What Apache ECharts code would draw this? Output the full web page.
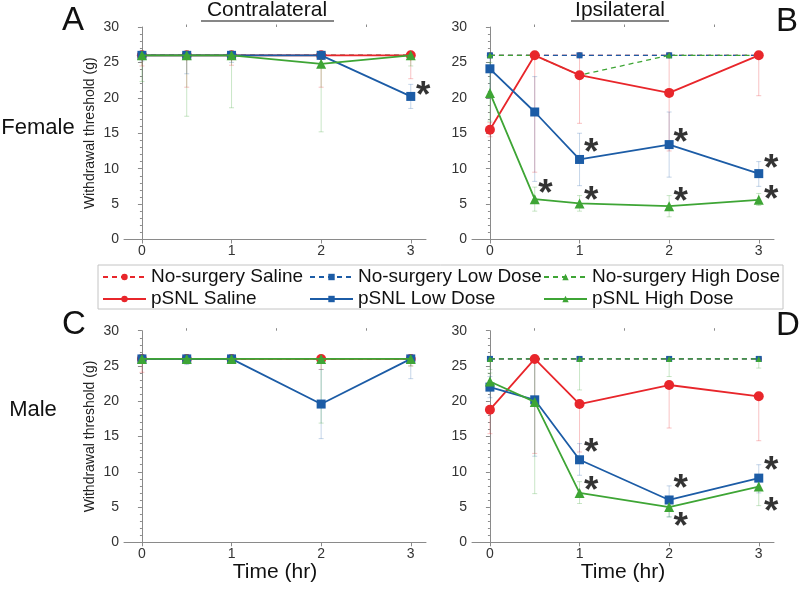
<!DOCTYPE html>
<html><head><meta charset="utf-8">
<script src="https://cdn.jsdelivr.net/npm/echarts@6/dist/echarts.min.js"></script>
<style>html,body{margin:0;padding:0;background:#fff}#c{width:800px;height:589px}</style>
</head><body><div id="c"></div>
<script>
// ---------------- DATA ----------------
const times = [0, 0.5, 1, 2, 3];
const xTickValues = [0, 1, 2, 3];
const xMinorTickValues = [0.5, 1.5, 2.5];
const seriesNames = ['No-surgery Saline', 'No-surgery Low Dose', 'No-surgery High Dose', 'pSNL Saline', 'pSNL Low Dose', 'pSNL High Dose'];

// A: Female, contralateral
const femContraNsSaline = [26, 26, 26, 26, 26];
const femContraNsLow    = [26, 26, 26, 26, 26];
const femContraNsHigh   = [26, 26, 26, 26, 26];
const femContraSaline   = [26, 26, 26, 26, 26];
const femContraLow      = [26, 26, 26, 26, 20.2];
const femContraHigh     = [26, 26, 26, 24.8, 26];
const femContraSalineLo = [24.5, 21.5, 24.6, 21.5, 22.7];
const femContraSalineHi = [26, 26, 26, 26, 26];
const femContraLowLo    = [25.2, 23.4, 25, 25.5, 18.5];
const femContraLowHi    = [26, 26, 26, 26, 21.9];
const femContraHighLo   = [22.3, 17.4, 18.6, 15.2, 24.5];
const femContraHighHi   = [26, 26, 26, 26, 26];
const femContraStars    = [[3.14, 21.3]];

// B: Female, ipsilateral
const femIpsiNsSaline = [26, 26, 26, 26, 26];
const femIpsiNsLow    = [26, 26, 26, 26, 26];
const femIpsiNsHigh   = [26, 26, 23.2, 26, 26];
const femIpsiSaline   = [15.5, 26, 23.2, 20.7, 26];
const femIpsiLow      = [24.1, 18.0, 11.3, 13.4, 9.3];
const femIpsiHigh     = [20.7, 5.7, 5.1, 4.7, 5.6];
const femIpsiSalineLo = [14.5, 9.5, 16.4, 12.5, 20.3];
const femIpsiSalineHi = [16.5, 26, 26, 26, 26];
const femIpsiLowLo    = [20.0, 8.2, 7.6, 8.8, 7.5];
const femIpsiLowHi    = [26, 23, 15, 18, 11];
const femIpsiHighLo   = [16.7, 4.0, 4.0, 3.2, 4.8];
const femIpsiHighHi   = [25, 7.4, 6.2, 6.2, 6.5];
const femIpsiStars    = [[0.62, 7.4], [1.13, 13.2], [1.13, 6.5], [2.13, 14.7], [2.13, 6.25], [3.14, 11.0], [3.14, 6.6]];

// C: Male, contralateral
const maleContraNsSaline = [26, 26, 26, 26, 26];
const maleContraNsLow    = [26, 26, 26, 26, 26];
const maleContraNsHigh   = [26, 26, 26, 26, 26];
const maleContraSaline   = [26, 26, 26, 26, 26];
const maleContraLow      = [26, 26, 26, 19.6, 26];
const maleContraHigh     = [26, 26, 26, 26, 26];
const maleContraSalineLo = [24.1, 25.5, 25.5, 24.5, 25];
const maleContraSalineHi = [26, 26, 26, 26, 26];
const maleContraLowLo    = [25.5, 25.2, 25.5, 14.7, 23.2];
const maleContraLowHi    = [26, 26, 26, 24.5, 26];
const maleContraHighLo   = [25.5, 25.5, 25.5, 16.9, 25];
const maleContraHighHi   = [26, 26, 26, 26, 26];
const maleContraStars    = [];

// D: Male, ipsilateral
const maleIpsiNsSaline = [26, 26, 26, 26, 26];
const maleIpsiNsLow    = [26, 26, 26, 26, 26];
const maleIpsiNsHigh   = [26, 26, 26, 26, 26];
const maleIpsiSaline   = [18.8, 26, 19.6, 22.3, 20.7];
const maleIpsiLow      = [22.0, 20.2, 11.7, 6.0, 9.1];
const maleIpsiHigh     = [22.8, 19.9, 7.0, 5.0, 7.9];
const maleIpsiSalineLo = [15.4, 12.6, 12.8, 16.2, 14.4];
const maleIpsiSalineHi = [18.8, 26, 19.6, 22.3, 20.7];
const maleIpsiLowLo    = [20.5, 12.2, 9.5, 3.6, 7.0];
const maleIpsiLowHi    = [23.5, 26, 14, 8, 11];
const maleIpsiHighLo   = [21.5, 6.9, 5.5, 3.6, 5.2];
const maleIpsiHighHi   = [24, 26, 8.6, 6.5, 9];
const maleIpsiNsHighLo = [24.5, 26, 21.6, 23.5, 24.7];
const maleIpsiStars    = [[1.13, 13.65], [1.13, 8.36], [2.13, 8.55], [2.13, 3.16], [3.14, 11.2], [3.14, 5.3]];

// ---------------- STYLE ----------------
const FONT = '"Liberation Sans", Arial, sans-serif';
const RED = '#e8262b', BLUE = '#1c5ca6', GREEN = '#3ea535';
const colors = [RED, BLUE, GREEN, RED, BLUE, GREEN];
const symbols = ['circle', 'rect', 'triangle', 'circle', 'rect', 'triangle'];
const paleColors = ['rgba(232,38,43,0.28)', 'rgba(28,92,166,0.25)', 'rgba(62,165,53,0.28)'];

const panels = [
  {grid: {left: 124, top: 27, width: 302, height: 212.5}, yName: true, xName: false,
   lines: [femContraNsSaline, femContraNsLow, femContraNsHigh, femContraSaline, femContraLow, femContraHigh],
   errs: [[femContraSalineLo, femContraSalineHi], [femContraLowLo, femContraLowHi], [femContraHighLo, femContraHighHi]],
   nsErr: null, stars: femContraStars},
  {grid: {left: 472, top: 27, width: 302, height: 212.5}, yName: false, xName: false,
   lines: [femIpsiNsSaline, femIpsiNsLow, femIpsiNsHigh, femIpsiSaline, femIpsiLow, femIpsiHigh],
   errs: [[femIpsiSalineLo, femIpsiSalineHi], [femIpsiLowLo, femIpsiLowHi], [femIpsiHighLo, femIpsiHighHi]],
   nsErr: null, stars: femIpsiStars},
  {grid: {left: 124, top: 330.7, width: 302, height: 211.6}, yName: true, xName: true,
   lines: [maleContraNsSaline, maleContraNsLow, maleContraNsHigh, maleContraSaline, maleContraLow, maleContraHigh],
   errs: [[maleContraSalineLo, maleContraSalineHi], [maleContraLowLo, maleContraLowHi], [maleContraHighLo, maleContraHighHi]],
   nsErr: null, stars: maleContraStars},
  {grid: {left: 472, top: 330.7, width: 302, height: 211.6}, yName: false, xName: true,
   lines: [maleIpsiNsSaline, maleIpsiNsLow, maleIpsiNsHigh, maleIpsiSaline, maleIpsiLow, maleIpsiHigh],
   errs: [[maleIpsiSalineLo, maleIpsiSalineHi], [maleIpsiLowLo, maleIpsiLowHi], [maleIpsiHighLo, maleIpsiHighHi]],
   nsErr: [maleIpsiNsHighLo, maleIpsiNsHigh], stars: maleIpsiStars}
];

const AXIS_COLOR = '#8a8a8a';
const grids = [], xAxes = [], yAxes = [], series = [];

function errRender(color) {
  return function (params, api) {
    const x = api.value(0), lo = api.value(1), hi = api.value(2);
    const a = api.coord([x, lo]), b = api.coord([x, hi]);
    const w = 2.5;
    const st = {stroke: color, lineWidth: 1, fill: null};
    return {type: 'group', children: [
      {type: 'line', shape: {x1: a[0], y1: a[1], x2: b[0], y2: b[1]}, style: st},
      {type: 'line', shape: {x1: a[0] - w, y1: a[1], x2: a[0] + w, y2: a[1]}, style: st},
      {type: 'line', shape: {x1: b[0] - w, y1: b[1], x2: b[0] + w, y2: b[1]}, style: st}
    ]};
  };
}

panels.forEach((p, gi) => {
  grids.push(p.grid);
  xAxes.push({
    type: 'value', gridIndex: gi, min: -0.2, max: 3.17,
    axisLine: {show: true, lineStyle: {color: AXIS_COLOR, width: 1}},
    axisTick: {show: true, customValues: xTickValues, length: 4, lineStyle: {color: AXIS_COLOR}},
    axisLabel: {show: true, customValues: xTickValues, margin: 5, color: '#333', fontSize: 14, fontFamily: FONT},
    splitLine: {show: false},
    name: p.xName ? 'Time (hr)' : '', nameLocation: 'middle', nameGap: 19,
    nameTextStyle: {fontSize: 21, color: '#111', fontFamily: FONT, verticalAlign: 'top'}
  });
  xAxes.push({
    type: 'value', gridIndex: gi, min: -0.2, max: 3.17,
    axisLine: {show: false},
    axisTick: {show: true, customValues: xMinorTickValues, length: 2.5, lineStyle: {color: AXIS_COLOR}},
    axisLabel: {show: false},
    splitLine: {show: false}
  });
  yAxes.push({
    type: 'value', gridIndex: gi, min: 0, max: 30, interval: 5,
    axisLine: {show: true, lineStyle: {color: AXIS_COLOR, width: 1}},
    axisTick: {show: true, length: 4, lineStyle: {color: AXIS_COLOR}},
    minorTick: {show: true, splitNumber: 5, length: 2, lineStyle: {color: AXIS_COLOR}},
    axisLabel: {margin: 5, color: '#333', fontSize: 14, fontFamily: FONT},
    splitLine: {show: false},
    name: p.yName ? 'Withdrawal threshold (g)' : '', nameLocation: 'middle', nameGap: 27,
    nameTextStyle: {fontSize: 14, color: '#222', fontFamily: FONT}
  });
  const xi = gi * 2, yi = gi;
  p.errs.forEach((e, k) => {
    series.push({
      type: 'custom', name: 'err' + gi + '_' + k, xAxisIndex: xi, yAxisIndex: yi, silent: true, z: 1,
      renderItem: errRender(paleColors[k]),
      data: times.map((t, i) => [t, e[0][i], e[1][i]])
    });
  });
  if (p.nsErr) {
    series.push({
      type: 'custom', name: 'nserr' + gi, xAxisIndex: xi, yAxisIndex: yi, silent: true, z: 1,
      renderItem: errRender(paleColors[2]),
      data: times.map((t, i) => [t, p.nsErr[0][i], p.nsErr[1][i]])
    });
  }
  p.lines.forEach((vals, k) => {
    const ns = k < 3;
    series.push({
      type: 'line', name: seriesNames[k], xAxisIndex: xi, yAxisIndex: yi,
      data: times.map((t, i) => [t, vals[i]]),
      symbol: symbols[k],
      symbolSize: ns ? 6 : (k === 4 ? 9 : 10),
      showAllSymbol: true,
      z: (ns ? 3 : 4) + k * 0.01,
      lineStyle: {color: colors[k], width: ns ? 1.3 : 1.8, type: ns ? [5, 4] : 'solid'},
      itemStyle: {color: colors[k]},
      emphasis: {disabled: true},
      animation: false
    });
  });
  series.push({
    type: 'scatter', name: 'stars' + gi, xAxisIndex: xi, yAxisIndex: yi, z: 6, silent: true,
    symbol: 'circle', symbolSize: 1, itemStyle: {color: 'rgba(0,0,0,0)'},
    data: p.stars,
    label: {show: true, position: 'inside', formatter: '*', fontSize: 37, fontWeight: 'bold',
            color: '#000', fontFamily: FONT, offset: [0, 8]}
  });
});

const legendCols = [102, 309, 543];
const legendRows = [267.5, 289.5];
const legends = seriesNames.map((n, k) => ({
  data: [n], left: legendCols[k % 3], top: legendRows[Math.floor(k / 3)],
  itemWidth: 43, itemHeight: 8, padding: 0, selectedMode: false,
  textStyle: {fontSize: 19, color: '#111', fontFamily: FONT}
}));

const txt = (text, x, y, size, extra) => Object.assign({
  type: 'text', x: x, y: y,
  style: {text: text, fontSize: size, fontFamily: FONT, fill: '#111', align: 'center', verticalAlign: 'middle'}
}, extra || {});

const option = {
  animation: false,
  backgroundColor: '#fff',
  grid: grids, xAxis: xAxes, yAxis: yAxes, series: series, legend: legends,
  graphic: [
    {type: 'rect', shape: {x: 98, y: 265, width: 685, height: 44}, style: {fill: 'none', stroke: '#c4c4c4', lineWidth: 1}},
    txt('A', 73, 21, 33), txt('B', 787, 22, 33), txt('C', 74, 325, 33), txt('D', 788, 326, 33),
    txt('Female', 38, 128, 22), txt('Male', 33, 410, 22),
    txt('Contralateral', 267, 10, 21), txt('Ipsilateral', 620, 10, 21),
    {type: 'line', shape: {x1: 201, y1: 21, x2: 334, y2: 21}, style: {stroke: '#111', lineWidth: 1.2}},
    {type: 'line', shape: {x1: 571, y1: 21, x2: 669, y2: 21}, style: {stroke: '#111', lineWidth: 1.2}}
  ]
};

const chart = echarts.init(document.getElementById('c'), null, {renderer: 'canvas'});
chart.setOption(option);
</script></body></html>
